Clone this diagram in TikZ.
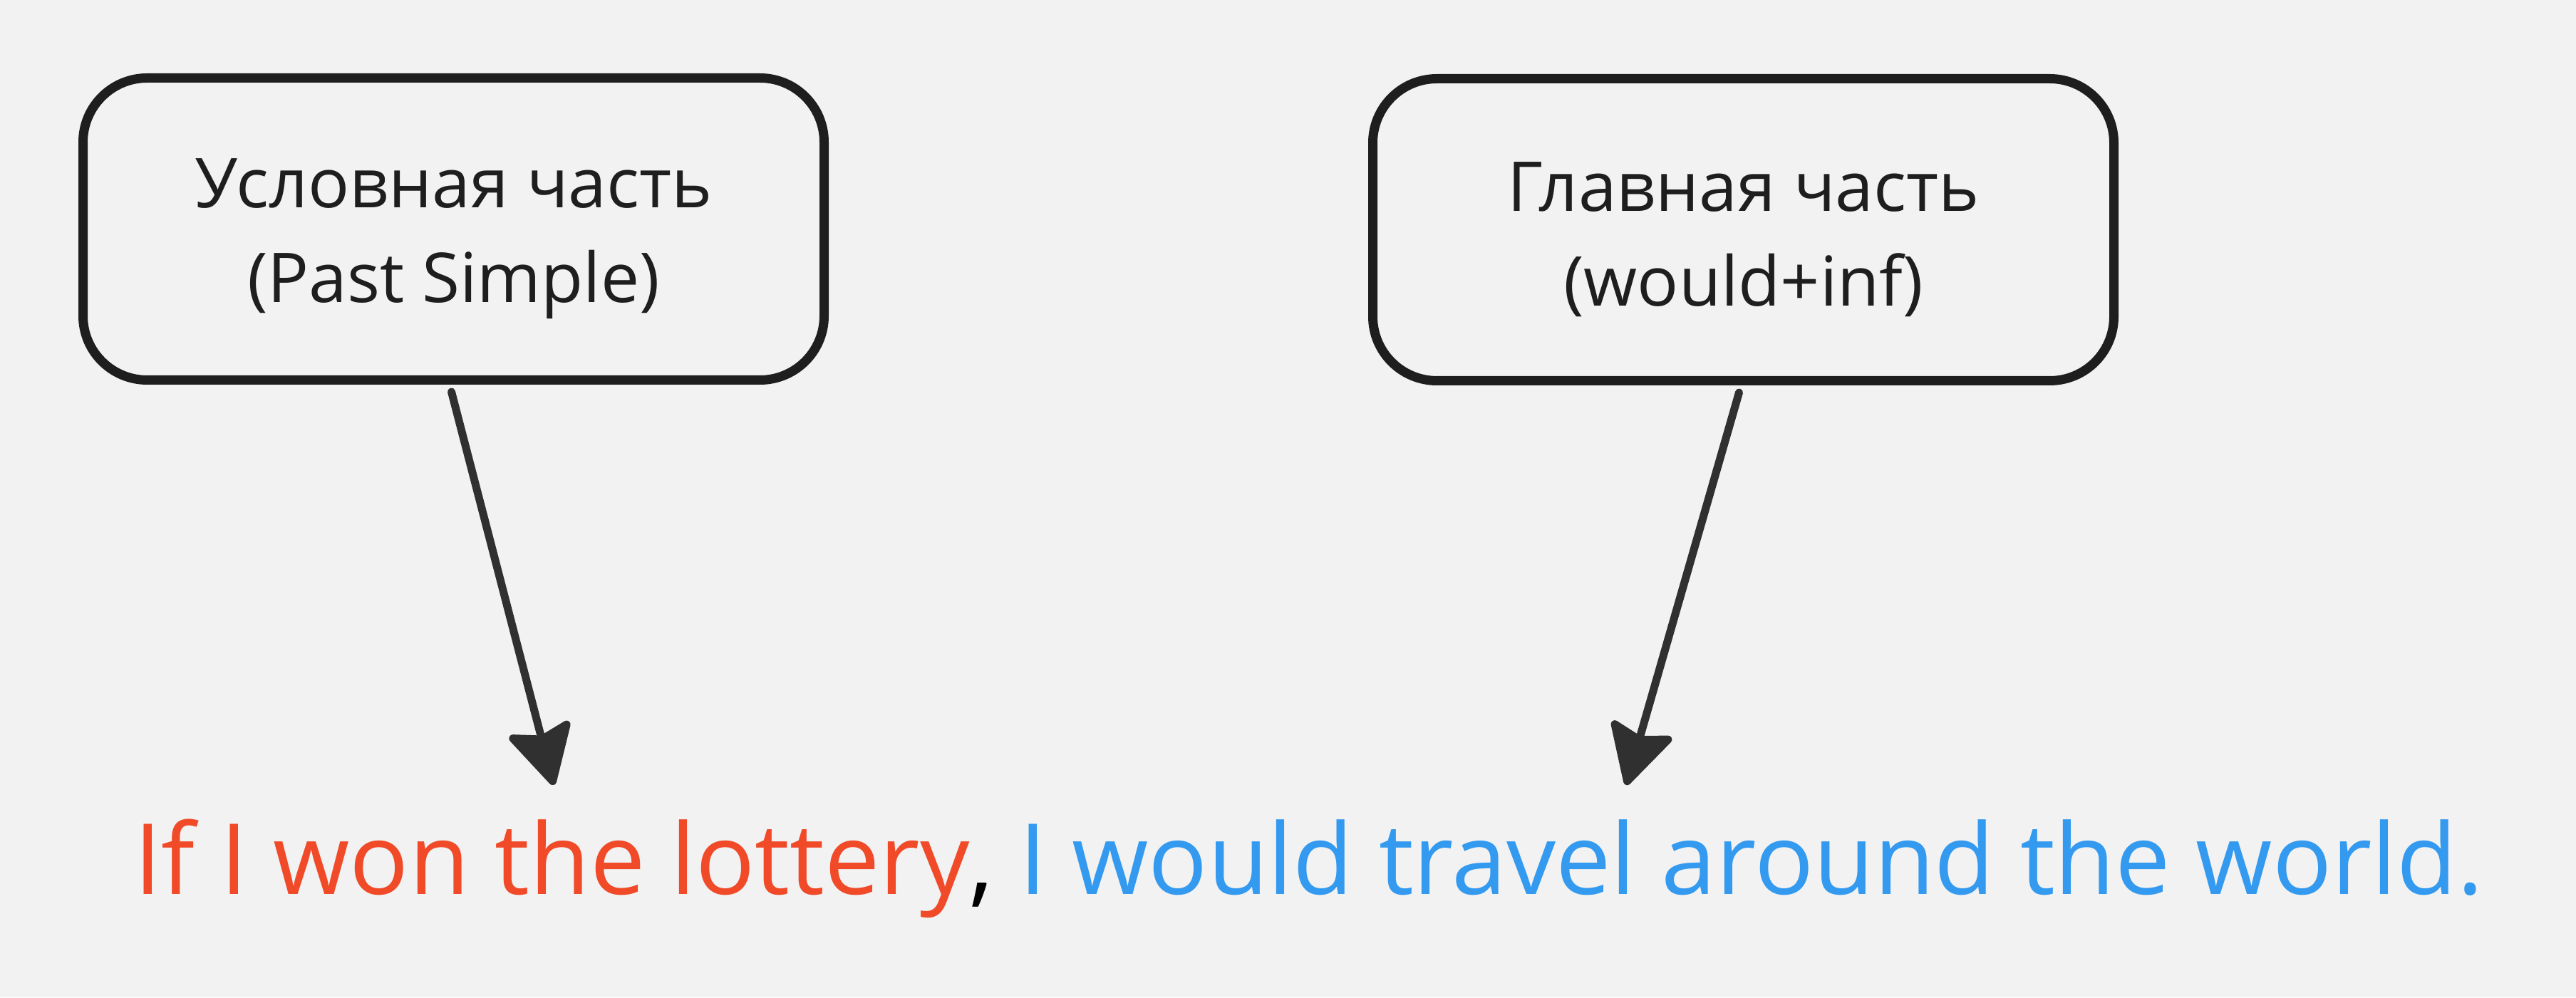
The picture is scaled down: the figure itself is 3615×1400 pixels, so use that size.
\documentclass[tikz,border=0pt]{standalone}
\usepackage{fontspec}
\setmainfont{Open Sans}
\usetikzlibrary{arrows.meta}
\definecolor{bg}{HTML}{F2F2F2}
\definecolor{boxline}{HTML}{1E1E1E}
\definecolor{arrowc}{HTML}{303030}
\definecolor{redt}{RGB}{240,74,40}
\definecolor{bluet}{RGB}{51,154,240}
\tikzset{
  x=1pt, y=1pt,
  partbox/.style={draw=boxline, fill=bg, line width=13pt, rounded corners=90pt,
    minimum width=1040pt, minimum height=424pt, align=center,
    font=\fontsize{96.5pt}{133pt}\selectfont, text=boxline},
  conn/.style={draw=arrowc, line width=11pt, line cap=round,
    -{Stealth[length=92pt, width=98pt, inset=14pt, round]}},
  sentence/.style={font=\fontsize{138pt}{170pt}\selectfont, inner sep=0pt, anchor=base west}
}
\newcommand{\lift}{\rule{0pt}{96pt}}
\begin{document}
\begin{tikzpicture}
\fill[bg] (0,0) rectangle (3615,1400);
\useasboundingbox (0,0) rectangle (3615,1400);
\node[partbox] (cond) at (636.5,1078.5) {\lift Условная часть\\(Past Simple)};
\node[partbox] (main) at (2446.5,1077.5) {\lift Главная часть\\(would+inf)};
\node[sentence] (sent) at (188,145) {\textcolor{redt}{If I won the lottery}, \textcolor{bluet}{I would travel around the world.}};
\coordinate (t1) at (777,298);
\coordinate (t2) at (2282,298);
\draw[conn] ([xshift=-3pt,yshift=-10pt]cond.south) -- (t1);
\draw[conn] ([xshift=-6pt,yshift=-10pt]main.south) -- (t2);
\end{tikzpicture}
\end{document}
